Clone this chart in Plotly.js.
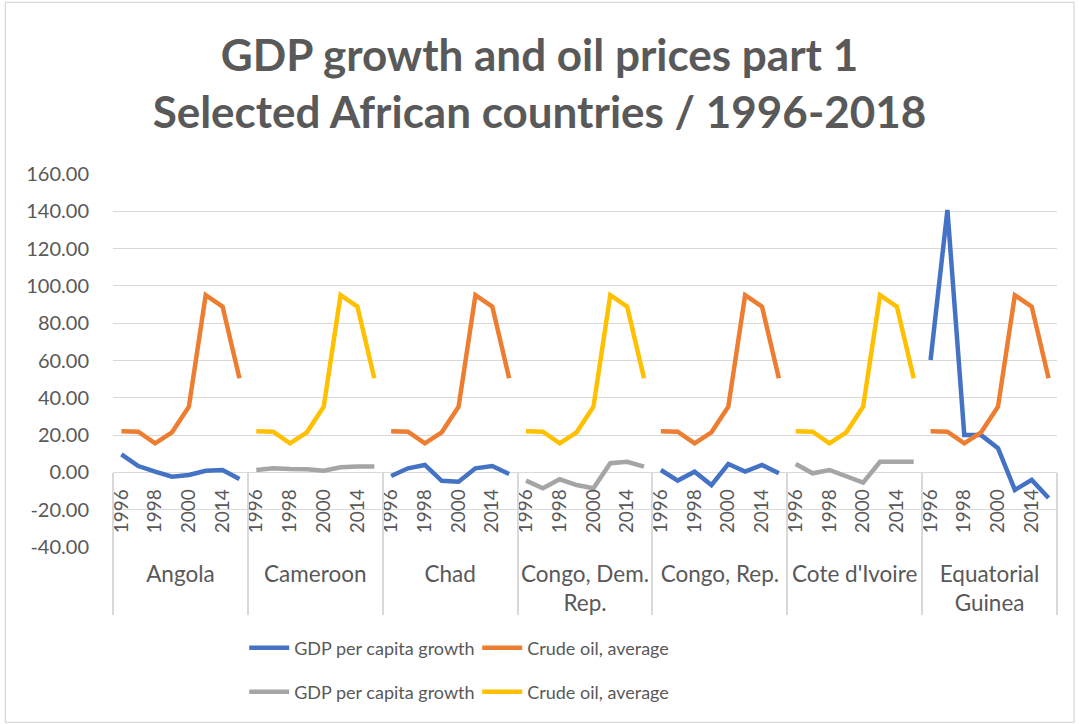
<!DOCTYPE html>
<html>
<head>
<meta charset="utf-8">
<script src="https://cdn.plot.ly/plotly-3.0.1.min.js"></script>
<style>
html,body{margin:0;padding:0;background:#fff;}
#chart{width:1079px;height:724px;}
</style>
</head>
<body>
<div id="chart"></div>
<script>
// ---- data ----
const countries = ["Angola", "Cameroon", "Chad", "Congo, Dem.<br>Rep.", "Congo, Rep.", "Cote d'Ivoire", "Equatorial<br>Guinea"];
const years = ["1996", "1997", "1998", "1999", "2000", "2013", "2014", "2015"];
const shownYears = ["1996", "1998", "2000", "2014"];
const crudeOil = [22.0, 21.8, 15.6, 21.5, 35.2, 95.0, 88.9, 50.5];
const gdpAngola = [9.7, 3.4, 0.4, -2.3, -1.4, 0.9, 1.3, -3.5];
const gdpCameroon = [1.3, 2.2, 1.8, 1.7, 0.9, 2.7, 3.1, 3.1];
const gdpChad = [-1.9, 2.2, 4.0, -4.5, -5.0, 2.2, 3.4, -0.9];
const gdpCongoDem = [-4.4, -8.5, -3.7, -6.8, -8.5, 4.9, 5.7, 3.1];
const gdpCongoRep = [1.3, -4.4, 0.4, -6.8, 4.5, 0.4, 4.0, -0.5];
const gdpCoteIvoire = [4.5, -0.5, 1.3, -1.9, -5.5, 5.7, 5.7, 5.7];
const gdpEqGuinea = [60.3, 140.7, 20.0, 20.0, 13.0, -9.4, -4.0, -13.7];
const yTicks = [-40, -20, 0, 20, 40, 60, 80, 100, 120, 140, 160];

const gdpByCountry = [gdpAngola, gdpCameroon, gdpChad, gdpCongoDem, gdpCongoRep, gdpCoteIvoire, gdpEqGuinea];

// ---- build series ----
const n = years.length;
const xs = [];
const gdpA = [], oilA = [], gdpB = [], oilB = [];
countries.forEach((c, ci) => {
  years.forEach((y, yi) => {
    xs.push(ci * n + yi);
    const even = ci % 2 === 0;
    gdpA.push(even ? gdpByCountry[ci][yi] : null);
    oilA.push(even ? crudeOil[yi] : null);
    gdpB.push(even ? null : gdpByCountry[ci][yi]);
    oilB.push(even ? null : crudeOil[yi]);
  });
});
const yearTickVals = [], yearTickText = [];
countries.forEach((c, ci) => {
  years.forEach((y, yi) => {
    if (shownYears.includes(y)) { yearTickVals.push(ci * n + yi); yearTickText.push(y); }
  });
});
const countryVals = countries.map((c, ci) => ci * n + (n - 1) / 2);
const sepVals = [];
for (let ci = 0; ci <= countries.length; ci++) sepVals.push(ci * n - 0.5);
const xRange = [-0.5, countries.length * n - 0.5];

const FONT = "Lato, 'Open Sans', sans-serif";
const TXT = "#595959";
const GRID = "#d9d9d9";
const LW = 4.5;

const traces = [
  {x: xs, y: gdpA, mode: 'lines', name: 'GDP per capita growth', line: {color: '#4472C4', width: LW}, legend: 'legend', connectgaps: false},
  {x: xs, y: oilA, mode: 'lines', name: 'Crude oil, average', line: {color: '#ED7D31', width: LW}, legend: 'legend', connectgaps: false},
  {x: xs, y: gdpB, mode: 'lines', name: 'GDP per capita growth', line: {color: '#A5A5A5', width: LW}, legend: 'legend2', connectgaps: false},
  {x: xs, y: oilB, mode: 'lines', name: 'Crude oil, average', line: {color: '#FFC000', width: LW}, legend: 'legend2', connectgaps: false}
];

const legendCommon = {
  orientation: 'h', xanchor: 'left', yanchor: 'middle', x: 0.139,
  font: {family: FONT, size: 18, color: TXT},
  bgcolor: 'rgba(0,0,0,0)', entrywidth: 178, entrywidthmode: 'pixels',
  itemwidth: 40, tracegroupgap: 0
};

const layout = {
  width: 1079, height: 724,
  paper_bgcolor: '#ffffff', plot_bgcolor: '#ffffff',
  margin: {l: 113, r: 22, t: 174, b: 177},
  font: {family: FONT, color: TXT},
  title: {
    text: 'GDP growth and oil prices part 1<br>Selected African countries / 1996-2018',
    font: {family: FONT, size: 44, color: TXT, weight: 'bold'},
    x: 0.5, xanchor: 'center', xref: 'container', y: 0.9026, yanchor: 'top', yref: 'container'
  },
  showlegend: true,
  legend: Object.assign({}, legendCommon, {y: -0.271}),
  legend2: Object.assign({}, legendCommon, {y: -0.389}),
  yaxis: {
    range: [-40, 160], tickvals: yTicks, ticktext: yTicks.map(v => v.toFixed(2)),
    showgrid: true, gridcolor: GRID, gridwidth: 1.3, zeroline: false, showline: false,
    ticks: '', tickfont: {family: FONT, size: 20, color: TXT}, ticklabelstandoff: 23
  },
  xaxis: {
    range: xRange, anchor: 'free', position: 0.2,
    tickvals: yearTickVals, ticktext: yearTickText, tickangle: -90,
    showgrid: false, zeroline: false, showline: false, ticks: '',
    tickfont: {family: FONT, size: 19, color: TXT}, ticklabelstandoff: 12
  },
  xaxis2: {
    range: xRange, overlaying: 'x', anchor: 'free', position: 0, side: 'bottom',
    tickvals: countryVals, ticktext: countries,
    showgrid: false, zeroline: false, showline: false, ticks: '',
    tickfont: {family: FONT, size: 22.5, color: TXT}, ticklabelstandoff: 11
  },
  xaxis3: {
    range: xRange, overlaying: 'x', anchor: 'free', position: 0.2, side: 'bottom',
    tickvals: sepVals, showticklabels: false,
    showgrid: false, zeroline: false, showline: false,
    ticks: 'outside', ticklen: 142, tickcolor: GRID, tickwidth: 1.5
  },
  shapes: [
    {type: 'rect', xref: 'paper', yref: 'paper', x0: -0.114, x1: 1.018, y0: -0.47, y1: 1.46,
     line: {color: GRID, width: 1.3}, fillcolor: 'rgba(0,0,0,0)', layer: 'below'}
  ]
};

// dummy traces to activate the overlay axes
traces.push({x: [xRange[0]], y: [null], xaxis: 'x2', showlegend: false, hoverinfo: 'skip'});
traces.push({x: [xRange[0]], y: [null], xaxis: 'x3', showlegend: false, hoverinfo: 'skip'});

Plotly.newPlot('chart', traces, layout, {displayModeBar: false, responsive: false});
</script>
</body>
</html>
